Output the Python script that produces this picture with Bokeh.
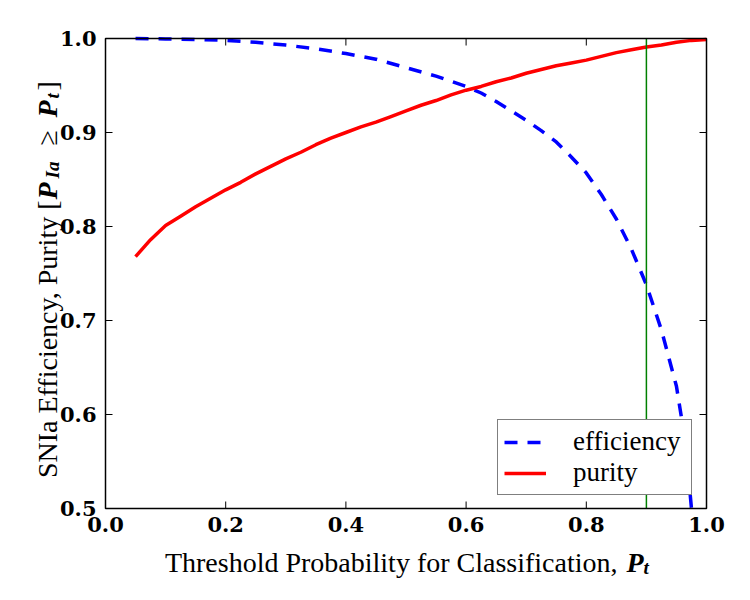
import math

from bokeh.plotting import figure
from bokeh.models import Range1d, Legend, LegendItem, Label
from bokeh.core.properties import value
from bokeh.embed import file_html
from bokeh.resources import INLINE

# Efficiency of the SNIa selection versus threshold probability P_t
eff_threshold = [0.05, 0.10, 0.15, 0.20, 0.25, 0.30, 0.35, 0.40, 0.45, 0.50,
                 0.55, 0.60, 0.625, 0.65, 0.675, 0.70, 0.725, 0.75, 0.775, 0.80,
                 0.825, 0.85, 0.875, 0.90, 0.925, 0.95, 0.965, 0.975]
efficiency = [1.000, 0.9995, 0.999, 0.998, 0.996, 0.993, 0.989, 0.984, 0.978, 0.969,
              0.960, 0.949, 0.942, 0.933, 0.923, 0.913, 0.902, 0.890, 0.874, 0.857,
              0.834, 0.808, 0.776, 0.738, 0.690, 0.630, 0.570, 0.500]

# Purity of the selected sample versus threshold probability P_t
pur_threshold = [0.05, 0.075, 0.10, 0.125, 0.15, 0.175, 0.20, 0.225, 0.25, 0.275,
                 0.30, 0.325, 0.35, 0.375, 0.40, 0.425, 0.45, 0.475, 0.50, 0.525,
                 0.55, 0.575, 0.60, 0.625, 0.65, 0.675, 0.70, 0.725, 0.75, 0.775,
                 0.80, 0.825, 0.85, 0.875, 0.90, 0.925, 0.95, 0.975, 1.00]
purity = [0.768, 0.786, 0.801, 0.811, 0.821, 0.830, 0.839, 0.847, 0.856, 0.864,
          0.872, 0.879, 0.887, 0.894, 0.900, 0.906, 0.911, 0.917, 0.923, 0.929,
          0.934, 0.940, 0.945, 0.949, 0.954, 0.958, 0.963, 0.967, 0.971, 0.974,
          0.977, 0.981, 0.985, 0.988, 0.991, 0.993, 0.996, 0.998, 0.999]

threshold_cut = 0.9

x_ticks = [0.0, 0.2, 0.4, 0.6, 0.8, 1.0]
y_ticks = [0.5, 0.6, 0.7, 0.8, 0.9, 1.0]
series_names = ["efficiency", "purity"]

X0, X1 = 0.0, 1.0
Y0, Y1 = 0.5, 1.0

# page geometry (pixels): the axes box sits inside a full-page frame
W, H = 750, 600
BL, BR, BT, BB = 105, 44, 38, 92
FW, FH = W - BL - BR, H - BT - BB

SERIF = "Liberation Serif"
TICK_FONT = "DejaVu Serif"
TICK_LEN = 7


def dx(px):
    return px / FW * (X1 - X0)


def dy(px):
    return px / FH * (Y1 - Y0)


def at(px, py):
    """Page pixel position -> data coordinates."""
    return X0 + dx(px - BL), Y1 - dy(py - BT)


p = figure(width=W, height=H,
           x_range=Range1d(X0 - dx(BL), X1 + dx(BR)),
           y_range=Range1d(Y0 - dy(BB), Y1 + dy(BT)),
           output_backend="svg", toolbar_location=None,
           min_border=0, min_border_left=0, min_border_right=0,
           min_border_top=0, min_border_bottom=0,
           x_axis_type=None, y_axis_type=None)
p.background_fill_color = "white"
p.border_fill_color = "white"
p.outline_line_color = None
p.xgrid.visible = False
p.ygrid.visible = False

# curves
r_eff = p.line(eff_threshold, efficiency, line_color="#0000ff", line_width=3.5,
               line_dash="13 10")
r_pur = p.line(pur_threshold, purity, line_color="#ff0000", line_width=3.5)

# chosen threshold
p.segment(x0=[threshold_cut], y0=[Y0], x1=[threshold_cut], y1=[Y1],
          line_color="#008000", line_width=1.5)

# axes box
p.quad(left=[X0], right=[X1], bottom=[Y0], top=[Y1], fill_color=None,
       line_color="black", line_width=1.5)

# inward ticks on all four sides
n_x, n_y = len(x_ticks), len(y_ticks)
p.segment(x0=x_ticks, y0=[Y0] * n_x, x1=x_ticks, y1=[Y0 + dy(TICK_LEN)] * n_x,
          line_color="black", line_width=1)
p.segment(x0=x_ticks, y0=[Y1] * n_x, x1=x_ticks, y1=[Y1 - dy(TICK_LEN)] * n_x,
          line_color="black", line_width=1)
p.segment(x0=[X0] * n_y, y0=y_ticks, x1=[X0 + dx(TICK_LEN)] * n_y, y1=y_ticks,
          line_color="black", line_width=1)
p.segment(x0=[X1] * n_y, y0=y_ticks, x1=[X1 - dx(TICK_LEN)] * n_y, y1=y_ticks,
          line_color="black", line_width=1)

# tick labels
p.text(x=x_ticks, y=[Y0 - dy(8)] * n_x, text=[f"{t:.1f}" for t in x_ticks],
       text_align="center", text_baseline="top",
       text_font=value(TICK_FONT), text_font_style="bold",
       text_font_size="21px", text_color="black")
p.text(x=[X0 - dx(9)] * n_y, y=y_ticks, text=[f"{t:.1f}" for t in y_ticks],
       text_align="right", text_baseline="middle",
       text_font=value(TICK_FONT), text_font_style="bold",
       text_font_size="21px", text_color="black")

legend = Legend(items=[LegendItem(label=series_names[0], renderers=[r_eff]),
                       LegendItem(label=series_names[1], renderers=[r_pur])],
                location=(497, H - 495), margin=0, padding=6, spacing=0,
                glyph_width=42, glyph_height=26, label_standoff=27,
                label_width=112, label_height=26,
                label_text_font=SERIF, label_text_font_size="27px",
                label_text_color="black",
                border_line_color="black", border_line_width=1.2,
                background_fill_color="white", background_fill_alpha=1.0)
p.add_layout(legend)


def add_text(px, py, text, size="28px", style="normal", align="left", angle=0.0):
    x, y = at(px, py)
    p.add_layout(Label(x=x, y=y, text=text, text_font=SERIF,
                       text_font_size=size, text_font_style=style,
                       text_align=align, text_baseline="alphabetic",
                       text_color="black", angle=angle))


# x-axis label: Threshold Probability for Classification, P_t
add_text(617, 562, "Threshold Probability for Classification,", align="right")
add_text(626, 562, "P", style="bold italic")
add_text(643, 567, "t", size="19px", style="bold italic")

# y-axis label: SNIa Efficiency, Purity [P_Ia >= P_t]
up = math.pi / 2
add_text(46.5, 200, "SNIa Efficiency, Purity [", align="right", angle=up)
add_text(46.5, 199, "P", style="bold italic", angle=up)
add_text(51.5, 178, "Ia", size="19px", style="bold italic", angle=up)
add_text(46.5, 145, "\u2265", angle=up)
add_text(46.5, 117, "P", style="bold italic", angle=up)
add_text(51.5, 98, "t", size="19px", style="bold italic", angle=up)
add_text(46.5, 90, "]", angle=up)

open("out.html", "w").write(file_html(p, INLINE))
